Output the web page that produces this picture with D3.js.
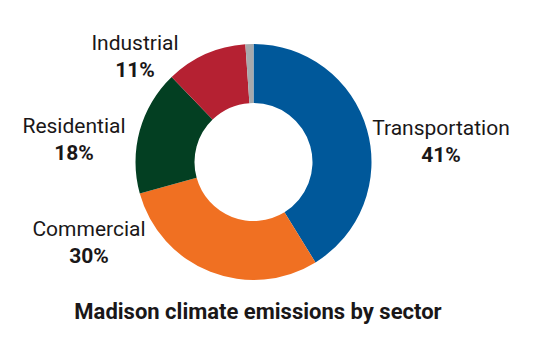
<!DOCTYPE html>
<html><head><meta charset="utf-8">
<script src="https://cdn.jsdelivr.net/npm/d3@7"></script>
<style>body{margin:0;background:#fff}svg{display:block}</style>
</head><body>
<svg id="c" width="535" height="343"></svg>
<script>
const categories = ["Transportation","Commercial","Residential","Industrial","Other"];
const values = [41.2, 29.5, 17.1, 11.1, 1.1];
const percentLabels = ["41%","30%","18%","11%",""];
const title = "Madison climate emissions by sector";

const colors = ["#00589a","#f07022","#033f22","#b52132","#a7a9ac"];
const labelPos = {Transportation:[441,135],Commercial:[89,236],Residential:[74,133],Industrial:[135,50]};

const svg = d3.select("#c");
const cx = 253.5, cy = 162, R = 118, r = 59;
const color = d3.scaleOrdinal().domain(categories).range(colors);
const pie = d3.pie().sort(null).value(d => d.v);
const data = categories.map((c,i)=>({c, v: values[i], p: percentLabels[i]}));
const arc = d3.arc().innerRadius(r).outerRadius(R);
const g = svg.append("g").attr("transform",`translate(${cx},${cy})`);
g.selectAll("path").data(pie(data)).join("path")
  .attr("d", arc).attr("fill", d => color(d.data.c));

const font = "Roboto, 'Open Sans', sans-serif";
const lg = svg.append("g").attr("font-family", font).attr("fill","#1a1718").attr("text-anchor","middle");
data.filter(d => labelPos[d.c]).forEach(d => {
  const [x,y] = labelPos[d.c];
  lg.append("text").attr("x",x).attr("y",y).attr("font-size",21).text(d.c);
  lg.append("text").attr("x",x).attr("y",y+27).attr("font-size",21).attr("font-weight","bold").text(d.p);
});
svg.append("text").attr("x",258).attr("y",319).attr("text-anchor","middle")
  .attr("font-family",font).attr("font-weight","bold").attr("font-size",22).attr("fill","#1a1718").text(title);
</script>
</body></html>
